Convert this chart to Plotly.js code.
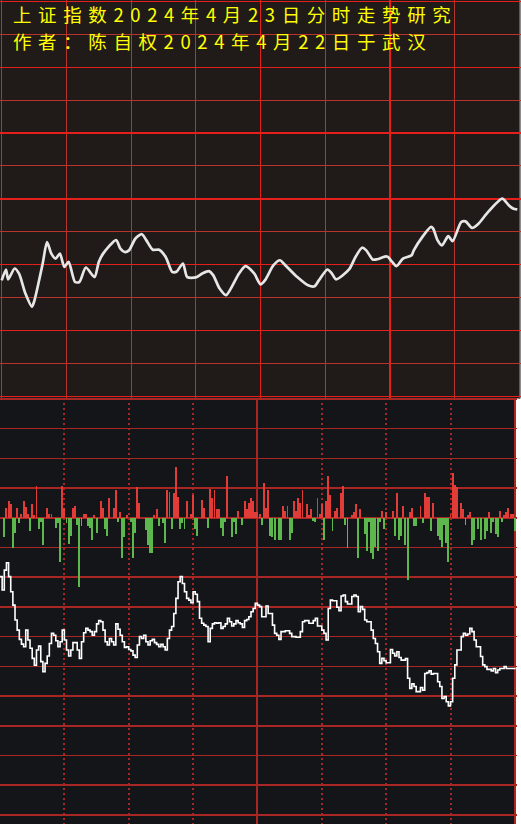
<!DOCTYPE html>
<html>
<head>
<meta charset="utf-8">
<script src="https://cdn.plot.ly/plotly-3.0.1.min.js"></script>
<style>
  html, body { margin: 0; padding: 0; background: #ffffff; }
  #chart { width: 521px; height: 824px; }
  .annotation-text { letter-spacing: 6.6px; }
</style>
</head>
<body>
<div id="chart"></div>
<script>
// 标题
const titleLines = ['上证指数2024年4月23日分时走势研究', '作者：陈自权2024年4月22日于武汉'];

// 上图：分时走势曲线（交易分钟, 格值）
const trendMinute = [0,2,3,6,8,11,14,15,19,21,23,25,27,29,31,34,36,39,43,45,47,53,55,57,59,62,65,67,70,73,76,79,81,84,86,90,93,96,98,101,104,110,113,117,120,122,126,129,131,137,142,145,147,151,153,155,161,164,167,169,172,174,178,179,181,183,186,190,191,195,199,200,202,204,207,209,213,215,218,221,225,232,235,237,239];
const trendLevel = [3.53,3.86,3.56,3.89,3.74,3.13,2.73,2.88,4.04,4.69,4.34,4.19,4.34,3.94,4.09,3.48,3.48,3.92,3.63,4.09,4.34,4.75,4.49,4.39,4.44,4.80,4.93,4.75,4.46,4.46,4.24,3.79,3.79,4.04,3.63,3.62,3.74,3.81,3.69,3.28,3.08,3.74,3.96,3.74,3.41,3.53,3.99,4.14,4.02,3.63,3.38,3.35,3.53,3.86,3.74,3.56,3.86,4.24,4.52,4.44,4.16,4.17,4.26,4.24,4.09,3.96,4.19,4.29,4.44,4.85,5.15,5.10,4.75,4.59,4.87,4.72,5.30,5.32,5.12,5.25,5.57,6.01,5.81,5.71,5.68];

// 下图：红柱（正值）
const redMinute = [3,4,5,8,10,11,12,13,15,16,17,22,23,24,29,30,34,35,39,40,44,47,48,51,53,54,56,59,
  64,65,72,73,78,79,81,82,83,87,89,90,94,95,98,99,100,101,102,106,111,114,115,116,117,118,119,120,
  121,123,124,125,132,133,134,137,138,139,140,141,143,144,145,148,149,150,152,153,154,156,157,159,160,164,165,166,168,178,180,
  183,185,188,191,192,196,198,199,200,202,210,211,212,213,215,216,218,219,228,233,235,236,237,238,239];
const redValue = [0.33,0.57,0.48,0.33,0.14,0.57,0.36,0.14,0.48,0.11,1.07,0.33,0.14,0.14,1.07,0.33,0.33,0.40,0.14,0.14,0.11,0.57,0.33,0.67,0.33,0.94,0.20,0.11,
  1.04,0.50,0.11,0.31,0.94,0.87,0.83,1.71,0.70,0.57,0.14,0.78,0.60,0.33,0.97,0.67,0.94,0.31,0.31,1.41,0.22,0.57,0.31,0.50,0.67,0.57,0.20,0.20,
  0.13,1.17,0.33,0.94,0.40,0.22,0.40,0.57,0.23,0.67,0.50,0.94,0.45,0.11,0.31,0.67,0.14,0.45,0.57,1.41,0.78,0.22,0.33,0.83,1.07,0.11,0.20,0.45,0.31,0.22,0.20,
  0.22,0.83,0.40,0.20,0.33,0.40,0.83,0.70,0.70,0.50,0.08,1.51,1.09,1.05,0.50,0.31,0.11,0.20,0.20,0.23,0.11,0.20,0.33,0.14,0.14];

// 下图：绿柱（负值）
const greenMinute = [2,6,7,9,14,18,19,20,26,27,28,31,32,33,36,37,38,41,42,43,45,49,50,55,57,58,
  61,62,63,68,69,70,71,74,76,77,80,84,85,86,91,92,97,103,104,105,108,109,110,113,
  122,126,127,128,130,131,135,136,146,147,151,155,161,162,167,170,171,172,173,174,175,176,177,179,
  184,186,187,189,190,193,194,197,201,204,205,206,207,208,209,217,220,221,223,224,226,227,229,230,231,232,234,240];
const greenValue = [-0.65,-1.02,-0.50,-0.17,-0.43,-0.37,-0.14,-0.90,-0.33,-0.17,-1.49,-0.17,-0.87,-0.61,-0.23,-2.33,-0.28,-0.28,-0.33,-0.74,-0.50,-0.37,-0.61,-0.14,-1.35,-0.65,
  -0.14,-1.35,-0.50,-0.42,-0.90,-1.17,-1.17,-0.28,-0.17,-0.84,-0.37,-0.37,-0.17,-0.37,-0.37,-0.61,-0.33,-0.33,-0.61,-0.14,-0.65,-0.14,-0.54,-0.23,
  -0.23,-0.61,-0.65,-0.74,-0.74,-0.74,-0.74,-0.50,-0.10,-0.14,-0.74,-0.43,-0.23,-1.02,-1.35,-0.54,-1.12,-0.14,-1.17,-1.37,-0.99,-1.12,-0.14,-0.37,
  -0.61,-0.74,-0.61,-0.90,-2.10,-0.28,-0.28,-0.17,-0.43,-0.61,-0.74,-0.99,-0.25,-0.84,-1.49,-0.23,-0.90,-0.74,-0.37,-0.74,-0.70,-0.43,-0.50,-0.14,-0.54,-0.65,-0.14,-0.43];

// 下图：白色指标线
const indMinute = [0,1,2,3,4,5,6,7,8,9,10,11,12,13,14,15,16,17,18,19,20,21,22,23,24,25,26,27,28,29,30,31,32,33,34,35,36,37,38,39,40,
  41,42,43,44,45,46,47,48,49,50,51,52,53,54,55,56,57,58,59,60,61,62,63,64,65,66,67,68,69,70,71,72,73,74,75,76,77,78,79,80,
  81,82,83,84,85,86,87,88,89,90,91,92,93,94,95,96,97,98,99,100,101,102,103,104,105,106,107,108,109,110,111,112,113,114,115,116,117,118,119,120,121,
  122,124,125,127,128,129,130,131,133,135,136,138,140,141,142,144,145,146,147,148,150,151,152,153,154,155,157,158,159,160,161,162,164,165,166,167,168,169,170,171,
  173,174,175,176,177,178,179,180,182,183,184,185,186,187,189,190,191,192,193,194,196,197,198,199,200,201,202,204,205,206,207,208,209,210,211,212,213,
  215,216,217,218,219,220,221,222,223,224,225,226,227,229,230,231,232,233,235,236,237,239,240];
const indValue = [-1.98,-2.43,-1.76,-1.51,-1.98,-2.49,-2.94,-3.44,-3.78,-4.09,-4.25,-4.34,-3.78,-4.11,-4.39,-4.73,-4.96,-4.45,-4.32,-4.84,-5.18,-4.90,-4.65,-4.23,-3.89,-3.95,-4.14,-4.34,-4.17,-3.78,-4.11,-4.45,-4.65,-4.45,-4.20,-4.20,-4.45,-4.73,-4.17,-3.87,-3.72,
  -3.78,-3.83,-3.95,-3.83,-3.57,-3.46,-3.50,-3.78,-4.17,-4.28,-4.06,-4.17,-4.28,-3.57,-3.75,-3.95,-4.17,-4.36,-4.34,-4.43,-4.48,-4.62,-4.70,-4.28,-4.00,-4.06,-3.95,-4.17,-4.28,-4.14,-4.09,-4.20,-4.26,-4.34,-4.26,-4.34,-4.45,-4.06,-3.78,-3.66,
  -3.22,-2.71,-2.15,-1.98,-2.21,-2.49,-2.71,-2.77,-2.86,-2.49,-2.57,-2.82,-3.38,-3.55,-3.61,-3.66,-4.17,-3.72,-3.57,-3.53,-3.55,-3.53,-3.72,-3.66,-3.57,-3.38,-3.50,-3.64,-3.57,-3.46,-3.53,-3.57,-3.69,-3.46,-3.42,-3.33,-3.16,-3.05,-2.88,-2.94,-2.99,
  -3.33,-2.97,-3.22,-3.61,-3.89,-3.95,-4.09,-3.83,-3.80,-3.89,-4.00,-4.02,-3.83,-3.50,-3.46,-3.55,-3.55,-3.46,-3.38,-3.64,-3.78,-3.89,-4.11,-3.05,-2.77,-2.79,-3.01,-3.13,-2.63,-2.60,-2.82,-2.90,-2.65,-2.60,-2.65,-3.16,-2.99,-3.08,-3.44,-3.50,
  -3.78,-4.06,-4.23,-4.51,-4.90,-4.73,-4.81,-4.88,-4.43,-4.56,-4.65,-4.51,-4.70,-4.79,-4.74,-5.40,-5.74,-5.59,-5.68,-5.85,-5.71,-5.80,-5.24,-5.21,-5.15,-5.26,-5.24,-5.52,-5.68,-6.08,-6.02,-6.19,-6.33,-6.19,-5.40,-4.95,-4.45,
  -4.00,-3.89,-3.95,-3.91,-3.72,-3.83,-4.11,-4.34,-4.34,-4.67,-4.95,-5.01,-5.10,-5.15,-5.07,-5.21,-5.12,-5.07,-5.01,-5.07,-5.07,-5.07,-5.10];

// ---- 版面 ----
const W = 521, H = 824;
const row = p => 1 - p / H;           // 像素行 -> paper 坐标
const TOP_BG = '#201a19', LOW_BG = '#141518';
const TOP_GRID = '#b8352e', TOP_GRID_HI = '#e3201c', LOW_GRID = '#a82624';
const TITLE_SIZE = 18.5, TITLE_STEP = 26.8;   // 字号与行距（像素）

const bare = {
  showticklabels: false, ticks: '', zeroline: false, showline: false, fixedrange: true
};
const topX = [-0.788, 240.70], topY = [-0.0546, 12.036];
const lowX = [0, 241.0], lowY = [-10.306, 4.0505];

const traces = [
  { type: 'scatter', mode: 'lines', x: trendMinute, y: trendLevel, xaxis: 'x', yaxis: 'y',
    line: { color: '#e6e6e6', width: 2.7, shape: 'spline', smoothing: 0.7 }, hoverinfo: 'skip' },
  { type: 'scatter', mode: 'lines', x: [], y: [], xaxis: 'x3', yaxis: 'y3', hoverinfo: 'skip' },
  { type: 'bar', x: redMinute, y: redValue, xaxis: 'x2', yaxis: 'y2', width: 0.9,
    marker: { color: '#e23c38', line: { width: 0 } }, hoverinfo: 'skip' },
  { type: 'bar', x: greenMinute, y: greenValue, xaxis: 'x2', yaxis: 'y2', width: 0.9,
    marker: { color: '#5cb84c', line: { width: 0 } }, hoverinfo: 'skip' },
  { type: 'scatter', mode: 'lines', x: indMinute, y: indValue, xaxis: 'x4', yaxis: 'y4',
    line: { color: '#ffffff', width: 1.6, shape: 'hv' }, hoverinfo: 'skip' }
];

const layout = {
  width: W, height: H,
  margin: { l: 0, r: 0, t: 0, b: 0, pad: 0 },
  paper_bgcolor: '#ffffff', plot_bgcolor: 'rgba(0,0,0,0)',
  showlegend: false, barmode: 'overlay', bargap: 0,
  shapes: [
    { type: 'rect', xref: 'paper', yref: 'paper', x0: 0, x1: 520.5 / W, y0: row(398.5), y1: 1,
      fillcolor: TOP_BG, line: { width: 0 }, layer: 'below' },
    { type: 'rect', xref: 'paper', yref: 'paper', x0: 0, x1: 515 / W, y0: 0, y1: row(398),
      fillcolor: LOW_BG, line: { width: 0 }, layer: 'below' }
  ],
  // 上图网格
  xaxis: Object.assign({}, bare, { domain: [0, 1], range: topX, anchor: 'y', tick0: 0, dtick: 30,
    showgrid: true, gridcolor: TOP_GRID, gridwidth: 1 }),
  yaxis: Object.assign({}, bare, { domain: [row(398.5), 1], range: topY, anchor: 'x', tick0: 0, dtick: 1,
    showgrid: true, gridcolor: TOP_GRID, gridwidth: 1 }),
  xaxis3: Object.assign({}, bare, { overlaying: 'x', range: topX, anchor: 'y3', tick0: 0, dtick: 60,
    showgrid: true, gridcolor: TOP_GRID_HI, gridwidth: 1.2 }),
  yaxis3: Object.assign({}, bare, { overlaying: 'y', range: topY, anchor: 'x3', tick0: 0, dtick: 2,
    showgrid: true, gridcolor: TOP_GRID_HI, gridwidth: 1.2 }),
  // 下图网格
  xaxis2: Object.assign({}, bare, { domain: [0, 517 / W], range: lowX, anchor: 'y2',
    tickmode: 'array', tickvals: [30, 60, 90, 150, 180, 210],
    showgrid: true, gridcolor: LOW_GRID, gridwidth: 2, griddash: '2px,3px' }),
  yaxis2: Object.assign({}, bare, { domain: [0, row(397.5)], range: lowY, anchor: 'x2', tick0: 0, dtick: 1,
    showgrid: true, gridcolor: LOW_GRID, gridwidth: 1 }),
  xaxis4: Object.assign({}, bare, { overlaying: 'x2', range: lowX, anchor: 'y4',
    tickmode: 'array', tickvals: [120, 240], showgrid: true, gridcolor: LOW_GRID, gridwidth: 2 }),
  yaxis4: Object.assign({}, bare, { overlaying: 'y2', range: lowY, anchor: 'x4',
    tickmode: 'array', tickvals: [4, 1, 0, -2, -3, -6, -7, -9, -10],
    showgrid: true, gridcolor: LOW_GRID, gridwidth: 2.2 }),
  annotations: titleLines.map((t, i) => ({
    xref: 'paper', yref: 'paper', x: 12 / W, y: 1 - (i * TITLE_STEP) / H,
    xanchor: 'left', yanchor: 'top', showarrow: false, borderpad: 0,
    text: t,
    font: { family: '"Noto Sans CJK SC", sans-serif', size: TITLE_SIZE, color: '#ffff00' }
  }))
};

Plotly.newPlot('chart', traces, layout, { staticPlot: true, displayModeBar: false });
</script>
</body>
</html>
